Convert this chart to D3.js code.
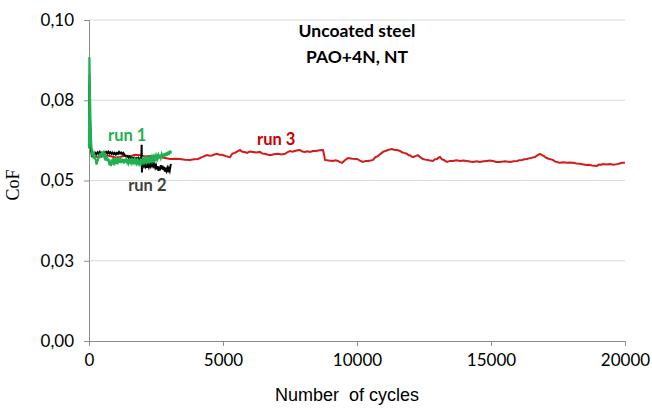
<!DOCTYPE html>
<html>
<head>
<meta charset="utf-8">
<script src="https://cdn.jsdelivr.net/npm/d3@7"></script>
<style>
  body { margin: 0; background: #fff; }
  svg { display: block; }
</style>
</head>
<body>
<div class="chart1"></div>
<script>
// tick values / labels
var yTicks = [0, 0.025, 0.05, 0.075, 0.1];
var yTickLabels = ["0,00", "0,03", "0,05", "0,08", "0,10"];
var xTicks = [0, 5000, 10000, 15000, 20000];

// run 1 (green) : [cycles, CoF]
var run1 = [[0,0.0600],[15,0.0885],[40,0.075],[70,0.064],[100,0.0585],[130,0.0590],[160,0.0576],[190,0.0583],[220,0.0570],[250,0.0565],
  [280,0.0550],[310,0.0560],[340,0.0565],[370,0.0580],[400,0.0570],[430,0.0586],[460,0.0575],[490,0.0589],[520,0.0580],[550,0.0586],
  [580,0.0572],[610,0.0578],[640,0.0562],[670,0.0574],[700,0.0560],[730,0.0568],[760,0.0548],[790,0.0562],[820,0.0545],[850,0.0566],
  [880,0.0550],[910,0.0570],[940,0.0547],[970,0.0568],[1000,0.0552],[1030,0.0572],[1060,0.0550],[1090,0.0568],[1120,0.0555],[1150,0.0573],
  [1180,0.0554],[1210,0.0568],[1240,0.0556],[1270,0.0566],[1300,0.0553],[1330,0.0567],[1360,0.0556],[1390,0.0565],[1420,0.0557],[1450,0.0566],
  [1480,0.0555],[1510,0.0563],[1540,0.0557],[1570,0.0564],[1600,0.0555],[1630,0.0563],[1660,0.0557],[1690,0.0565],[1720,0.0556],[1750,0.0563],
  [1780,0.0554],[1810,0.0562],[1840,0.0553],[1870,0.0560],[1900,0.0552],[1930,0.0561],[1960,0.0555],[1990,0.0565],[2020,0.0557],[2050,0.0566],
  [2080,0.0558],[2110,0.0567],[2140,0.0559],[2170,0.0568],[2200,0.0560],[2230,0.0569],[2260,0.0561],[2290,0.0570],[2320,0.0562],[2350,0.0572],
  [2380,0.0563],[2410,0.0573],[2440,0.0565],[2470,0.0575],[2500,0.0566],[2530,0.0576],[2560,0.0568],[2590,0.0578],[2620,0.0569],[2650,0.0580],
  [2680,0.0571],[2710,0.0581],[2740,0.0572],[2770,0.0583],[2800,0.0574],[2830,0.0585],[2860,0.0576],[2890,0.0587],[2920,0.0578],[2950,0.0590],
  [2980,0.0580],[3010,0.0593],[3040,0.0584],[3060,0.0592]];

// run 2 (black)
var run2 = [[0,0.062],[15,0.080],[40,0.068],[80,0.0590],[120,0.0578],[160,0.0583],[200,0.0580],[240,0.0586],[280,0.0582],[320,0.0588],
  [360,0.0584],[400,0.0589],[440,0.0583],[480,0.0587],[520,0.0582],[560,0.0588],[600,0.0584],[640,0.0589],[680,0.0585],[720,0.0590],
  [760,0.0584],[800,0.0588],[840,0.0583],[880,0.0587],[920,0.0582],[960,0.0586],[1000,0.0581],[1040,0.0586],[1080,0.0583],[1120,0.0589],
  [1160,0.0584],[1200,0.0587],[1240,0.0582],[1280,0.0586],[1320,0.0580],[1360,0.0577],[1400,0.0574],[1440,0.0576],[1480,0.0571],[1520,0.0574],
  [1560,0.0569],[1600,0.0572],[1640,0.0568],[1680,0.0571],[1720,0.0566],[1760,0.0570],[1800,0.0567],[1840,0.0571],[1880,0.0566],[1920,0.0569],
  [1950,0.0565],[1965,0.0611],[1975,0.0525],[1990,0.0560],[2020,0.0552],[2050,0.0545],[2080,0.0553],[2110,0.0544],[2140,0.0551],[2170,0.0540],
  [2200,0.0549],[2230,0.0542],[2260,0.0552],[2290,0.0545],[2320,0.0553],[2350,0.0546],[2380,0.0554],[2410,0.0545],[2440,0.0550],[2470,0.0540],
  [2500,0.0547],[2530,0.0535],[2560,0.0545],[2590,0.0530],[2620,0.0543],[2650,0.0532],[2680,0.0548],[2710,0.0536],[2740,0.0546],[2770,0.0533],
  [2800,0.0542],[2830,0.0528],[2860,0.0540],[2890,0.0530],[2920,0.0538],[2950,0.0526],[2980,0.0537],[3010,0.0530],[3040,0.0545],[3055,0.0552]];

// run 3 (red)
var run3 = [[0,0.070],[15,0.083],[40,0.068],[80,0.060],[112,0.0576],[260,0.0574],[410,0.0573],[600,0.0578],[784,0.0576],[970,0.0572],
  [1157,0.0573],[1340,0.0577],[1530,0.0576],[1720,0.0580],[1903,0.0579],[2090,0.0575],[2276,0.0576],[2460,0.0574],[2649,0.0573],[2840,0.0570],
  [3022,0.0567],[3210,0.0568],[3395,0.0567],[3580,0.0565],[3768,0.0564],[3920,0.0566],[4067,0.0567],[4216,0.0573],[4403,0.0579],[4500,0.0577],
  [4589,0.0578],[4680,0.0581],[4776,0.0583],[4870,0.0580],[4962,0.0580],[5040,0.0578],[5111,0.0576],[5190,0.0574],[5261,0.0573],[5350,0.0584],
  [5447,0.0586],[5540,0.0591],[5634,0.0595],[5700,0.0590],[5783,0.0589],[5840,0.0588],[5895,0.0586],[6000,0.0590],[6119,0.0589],[6250,0.0587],
  [6380,0.0589],[6470,0.0584],[6567,0.0583],[6650,0.0581],[6753,0.0579],[6900,0.0582],[7051,0.0583],[7180,0.0581],[7313,0.0583],[7400,0.0588],
  [7499,0.0592],[7590,0.0590],[7686,0.0592],[7780,0.0594],[7872,0.0595],[7960,0.0590],[8059,0.0589],[8150,0.0591],[8245,0.0589],[8360,0.0592],
  [8469,0.0592],[8600,0.0594],[8731,0.0595],[8770,0.0580],[8805,0.0564],[8950,0.0562],[9104,0.0561],[9200,0.0563],[9290,0.0561],[9370,0.0557],
  [9440,0.0555],[9550,0.0563],[9664,0.0570],[9830,0.0568],[9999,0.0567],[10110,0.0562],[10223,0.0558],[10320,0.0561],[10410,0.0561],[10500,0.0562],
  [10596,0.0564],[10690,0.0573],[10783,0.0576],[10880,0.0583],[10969,0.0589],[11060,0.0592],[11156,0.0595],[11230,0.0597],[11305,0.0598],[11380,0.0596],
  [11454,0.0595],[11530,0.0594],[11604,0.0592],[11680,0.0588],[11753,0.0586],[11810,0.0585],[11865,0.0583],[11920,0.0579],[11977,0.0579],[12030,0.0575],
  [12088,0.0573],[12180,0.0576],[12275,0.0579],[12370,0.0572],[12461,0.0567],[12550,0.0565],[12648,0.0564],[12740,0.0562],[12835,0.0561],[12910,0.0566],
  [12984,0.0567],[13040,0.0571],[13096,0.0573],[13170,0.0566],[13245,0.0564],[13300,0.0560],[13357,0.0558],[13470,0.0561],[13581,0.0561],[13710,0.0563],
  [13842,0.0561],[13970,0.0562],[14103,0.0561],[14210,0.0559],[14327,0.0558],[14460,0.0560],[14588,0.0558],[14720,0.0560],[14850,0.0561],[14960,0.0562],
  [15073,0.0561],[15200,0.0558],[15335,0.0558],[15520,0.0560],[15708,0.0558],[15840,0.0560],[15969,0.0561],[16060,0.0563],[16156,0.0564],[16250,0.0566],
  [16342,0.0567],[16420,0.0569],[16492,0.0570],[16570,0.0572],[16641,0.0573],[16740,0.0579],[16828,0.0583],[16900,0.0579],[16977,0.0576],[17030,0.0572],
  [17088,0.0570],[17140,0.0568],[17200,0.0567],[17260,0.0565],[17312,0.0564],[17390,0.0559],[17461,0.0558],[17520,0.0556],[17573,0.0555],[17700,0.0557],
  [17834,0.0555],[17950,0.0556],[18058,0.0555],[18190,0.0553],[18319,0.0552],[18450,0.0550],[18580,0.0548],[18670,0.0549],[18767,0.0547],[18860,0.0546],
  [18954,0.0545],[19010,0.0549],[19065,0.0550],[19120,0.0549],[19177,0.0551],[19300,0.0550],[19438,0.0551],[19570,0.0549],[19700,0.0551],[19800,0.0553],
  [19886,0.0555],[19998,0.0555]];

var W = 652, H = 408;
var svg = d3.select(".chart1").append("svg").attr("width", W).attr("height", H);

var x = d3.scaleLinear().domain([0, 20000]).range([89, 625]);
var y = d3.scaleLinear().domain([0, 0.1]).range([341, 20]);

// gridlines
svg.append("g").selectAll("line").data(yTicks.filter(function (d) { return d > 0; }))
  .enter().append("line")
  .attr("x1", x(0)).attr("x2", x(20000))
  .attr("y1", function (d) { return y(d); }).attr("y2", function (d) { return y(d); })
  .attr("stroke", "#d9d9d9").attr("stroke-width", 1);

// axes
var yAxis = d3.axisLeft(y).tickValues(yTicks).tickSize(5).tickPadding(10)
  .tickFormat(function (d, i) { return yTickLabels[i]; });
var gy = svg.append("g").attr("transform", "translate(" + x(0) + ",0)").call(yAxis);
var xAxis = d3.axisBottom(x).tickValues(xTicks).tickSize(5).tickPadding(8).tickFormat(d3.format("d"));
var gx = svg.append("g").attr("transform", "translate(0," + y(0) + ")").call(xAxis);

[gy, gx].forEach(function (g) {
  g.select(".domain").attr("stroke", "#8c8c8c");
  g.selectAll(".tick line").attr("stroke", "#8c8c8c");
  g.selectAll(".tick text").attr("fill", "#000").style("font-family", "Lato").style("font-size", "17px");
});

// lines
var line = d3.line().x(function (d) { return x(d[0]); }).y(function (d) { return y(d[1]); });
svg.append("path").datum(run3).attr("d", line).attr("fill", "none").attr("stroke", "#d41a1a").attr("stroke-width", 2);
svg.append("path").datum(run2).attr("d", line).attr("fill", "none").attr("stroke", "#000").attr("stroke-width", 2);
svg.append("path").datum(run1).attr("d", line).attr("fill", "none").attr("stroke", "#1fb050").attr("stroke-width", 2.2);

// run labels
function label(txt, cx, cy, col) {
  svg.append("text").attr("x", x(cx)).attr("y", y(cy)).text(txt)
    .attr("fill", col).style("font-family", "Lato").style("font-weight", "bold").style("font-size", "16.5px");
}
label("run 1", 710, 0.0624, "#1fb050");
label("run 2", 1460, 0.0467, "#404040");
label("run 3", 6270, 0.0611, "#c80000");

// title
svg.append("text").attr("x", 357).attr("y", 37).attr("text-anchor", "middle").text("Uncoated steel")
  .style("font-family", "Lato").style("font-weight", "bold").style("font-size", "17.5px");
svg.append("text").attr("x", 357).attr("y", 63).attr("text-anchor", "middle").text("PAO+4N, NT")
  .style("font-family", "Lato").style("font-weight", "bold").style("font-size", "17.5px");

// axis titles
svg.append("text").attr("transform", "translate(19,185) rotate(-90)").attr("text-anchor", "middle").text("CoF")
  .style("font-family", "Liberation Serif").style("font-size", "18px");
svg.append("text").attr("x", 347).attr("y", 401).attr("text-anchor", "middle").text("Number  of cycles")
  .style("font-family", "Liberation Sans").style("font-size", "18px").style("white-space", "pre");
</script>
</body>
</html>
